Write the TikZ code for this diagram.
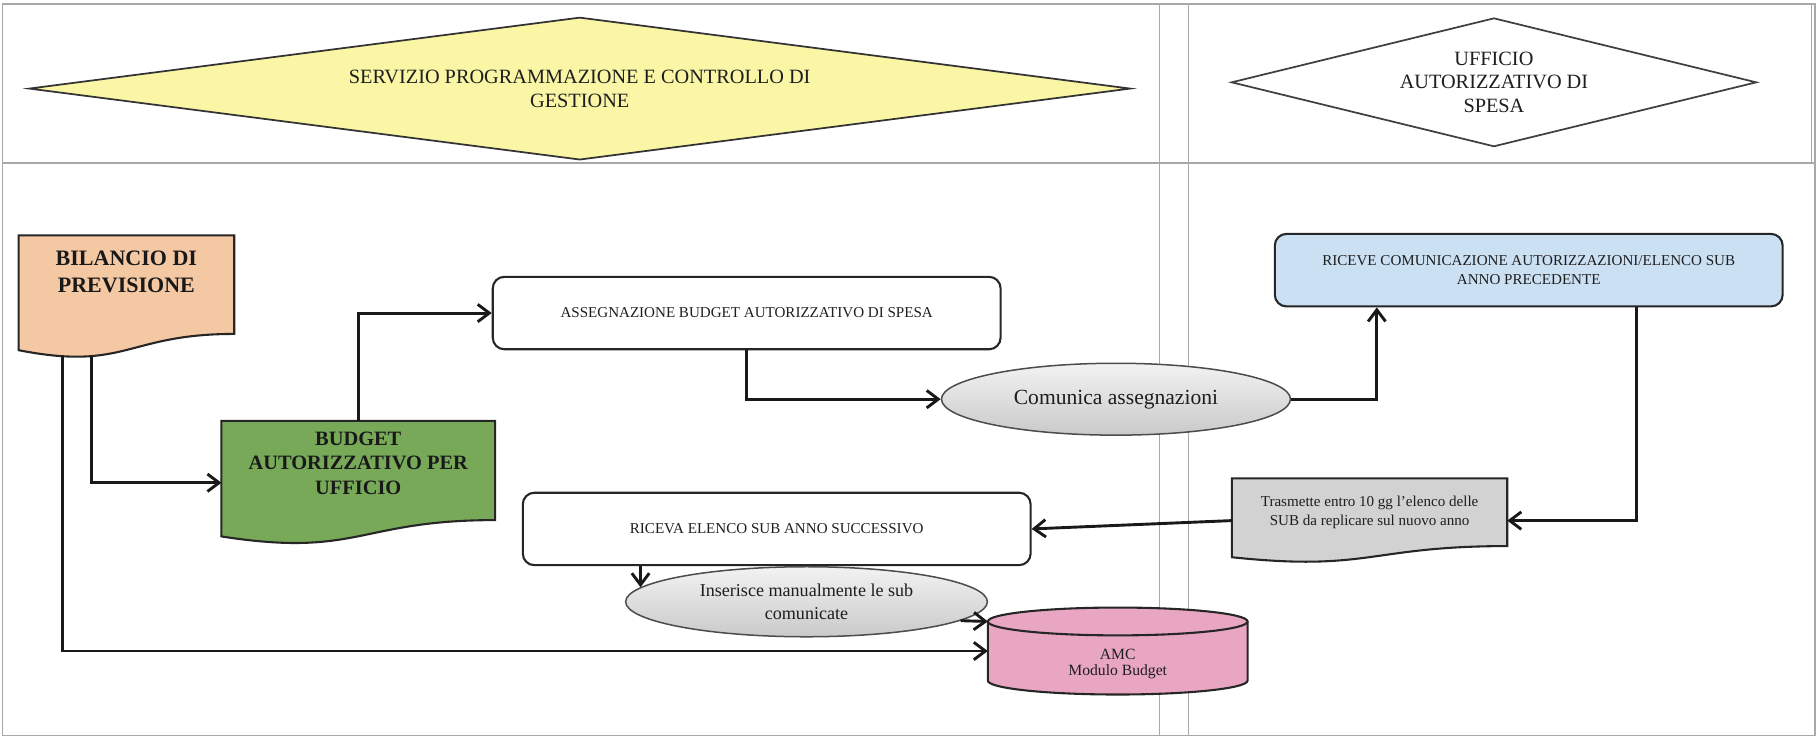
\documentclass[tikz,border=0pt]{standalone}
\usepackage{fontspec}
\setmainfont{Liberation Serif}
\usetikzlibrary{shapes.geometric,arrows.meta,calc}

\definecolor{dyellow}{HTML}{FAF6A6}
\definecolor{dsalmon}{HTML}{F5C8A4}
\definecolor{dgreen}{HTML}{78A958}
\definecolor{dblue}{HTML}{CCE0F4}
\definecolor{dpink}{HTML}{E9A6C3}
\definecolor{dgrayfill}{HTML}{D2D2D2}
\definecolor{dtext}{HTML}{1E1E1E}
\definecolor{dframe}{HTML}{A8A8A8}

\newcommand{\docpath}[2]{%
  \draw[boxline, fill=#2] (#1.north west) -- (#1.north east)
    -- ($(#1.north east)!0.802!(#1.south east)$)
    .. controls ($(#1.north)!0.802!(#1.south)$) and ($(#1.north)!1.107!(#1.south)$)
    .. ($(#1.north west)!0.934!(#1.south west)$) -- cycle;}

\tikzset{
  boxline/.style={draw=black!85, line width=1.8pt},
  holder/.style={rectangle, inner sep=0pt, outer sep=0pt},
  proc/.style={rectangle, rounded corners=10pt, draw=black!85, line width=1.8pt,
    minimum width=438pt, minimum height=62.5pt, inner sep=0pt, align=center,
    text=dtext, font=\fontsize{13}{16.4}\selectfont},
  oval/.style={ellipse, draw=black!70, line width=1.3pt, top color=gray!10,
    bottom color=gray!42, inner sep=0pt, align=center, text=dtext},
  arr/.style={line width=2.5pt, draw=black!90, -{Straight Barb[length=10pt,width=15pt]}},
  boldtxt/.style={align=center, text=black!90},
  smalltxt/.style={align=center, text=dtext, font=\fontsize{13}{16}\selectfont},
  frameline/.style={draw=dframe, line width=1.2pt},
  hdr/.style={diamond, line width=1.5pt, inner sep=0pt, align=center, text=dtext,
    font=\fontsize{17.5}{20.5}\selectfont}
}

\begin{document}
\begin{tikzpicture}[x=1pt,y=-1pt]
\useasboundingbox (0,0) rectangle (1568,637);

% frame
\draw[frameline] (2,3.5) rectangle (1565.5,634.5);
\draw[frameline] (2,140.5) -- (1565.5,140.5);
\draw[frameline, line width=0.8pt] (1000,3.5) -- (1000,634.5);
\draw[frameline, line width=0.8pt] (1025,3.5) -- (1025,634.5);
\draw[frameline, line width=0.8pt] (1562,3.5) -- (1562,140.5);

% header diamonds
\node[hdr, draw=black!80, fill=dyellow, aspect=7.7, minimum width=950pt, minimum height=123pt]
  (spcg) at (500,76.4) {SERVIZIO PROGRAMMAZIONE E CONTROLLO DI\\GESTIONE};
\node[hdr, draw=black!75, fill=white, aspect=4, minimum width=453pt, minimum height=111pt]
  (uas) at (1288.5,71) {UFFICIO\\AUTORIZZATIVO DI\\SPESA};

% document shapes
\node[holder, minimum width=186pt, minimum height=106pt, anchor=north west] (bil) at (16,203) {};
\docpath{bil}{dsalmon}
\node[boldtxt, font=\fontsize{19}{23}\selectfont\bfseries] (bilT) at ($(bil.north)+(0,31.5)$) {BILANCIO DI\\PREVISIONE};

\node[holder, minimum width=236pt, minimum height=106.7pt, anchor=north west] (bud) at (191,363) {};
\docpath{bud}{dgreen}
\node[boldtxt, font=\fontsize{17.6}{21}\selectfont\bfseries] (budT) at ($(bud.north)+(0,36.5)$) {BUDGET\\AUTORIZZATIVO PER\\UFFICIO};

\node[holder, minimum width=237.5pt, minimum height=72.8pt, anchor=north west] (tra) at (1062.5,412.6) {};
\docpath{tra}{dgrayfill}
\node[smalltxt] (traT) at ($(tra.north)+(0,29.5)$) {Trasmette entro 10 gg l'elenco delle\\SUB da replicare sul nuovo anno};

% process boxes
\node[proc, fill=white] (ass) at (644,270) {ASSEGNAZIONE BUDGET AUTORIZZATIVO DI SPESA};
\node[proc, fill=dblue] (ric) at (1318.5,233) {RICEVE COMUNICAZIONE AUTORIZZAZIONI/ELENCO SUB\\ANNO PRECEDENTE};
\node[proc, fill=white] (riva) at (669.9,456.2) {RICEVA ELENCO SUB ANNO SUCCESSIVO};

% ellipses
\node[oval, minimum width=301pt, minimum height=62pt, font=\fontsize{18.6}{22}\selectfont] (com) at (962.5,344.3) {Comunica assegnazioni};
\node[oval, minimum width=312pt, minimum height=60.4pt, font=\fontsize{15.6}{20}\selectfont] (ins) at (695.6,519) {Inserisce manualmente le sub\\comunicate};

% cylinder
\node[holder, minimum width=224pt, minimum height=75pt, anchor=north west] (amc) at (852,524) {};
\path[fill=dpink] (852,536) -- (852,587) arc[start angle=180,end angle=360,x radius=112pt,y radius=12pt]
  -- (1076,536) arc[start angle=0,end angle=180,x radius=112pt,y radius=12pt] -- cycle;
\draw[boxline] (852,536) -- (852,587) arc[start angle=180,end angle=360,x radius=112pt,y radius=12pt] -- (1076,536);
\draw[boxline] (964,536) ellipse[x radius=112pt, y radius=12pt];
\node[smalltxt, font=\fontsize{13.5}{14}\selectfont] (amcT) at (964,572.5) {AMC\\Modulo Budget};

% connectors
\draw[arr] ($(bil.south west)+(38,-2)$) |- (amc.west);
\draw[arr] ($(bil.south west)+(62.6,-2)$) |- (bud.west);
\draw[arr] (bud.north) |- (ass.west);
\draw[arr] (ass.south) |- (com.west);
\draw[arr] (com.east) -| ([xshift=-131pt]ric.south);
\draw[arr] ([xshift=93pt]ric.south) |- (tra.east);
\draw[arr] (tra.west) -- (riva.east);
\draw[arr] (riva.south -| ins.175) -- (ins.175);
\draw[arr] (ins.-7) -- ([yshift=25.5pt]amc.west);
\end{tikzpicture}
\end{document}
